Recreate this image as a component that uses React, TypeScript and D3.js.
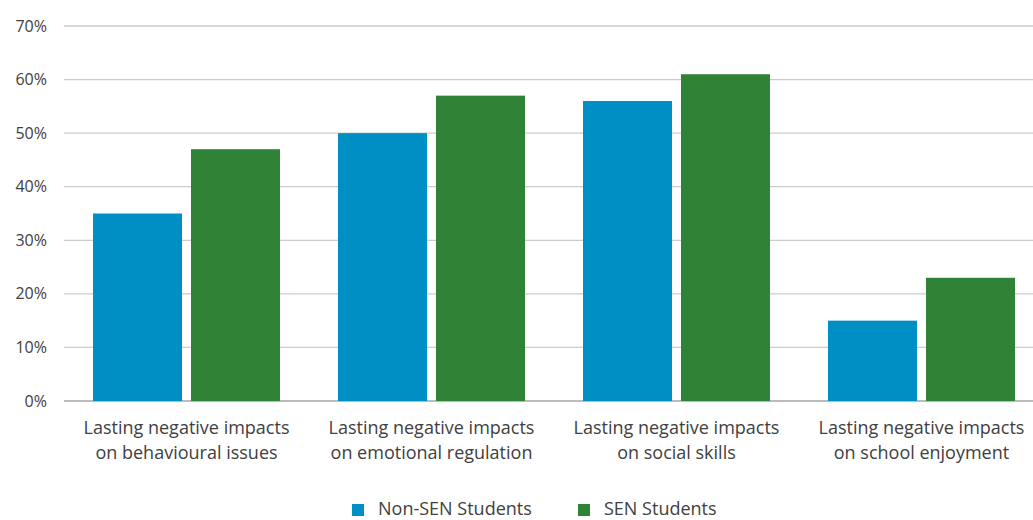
import React from "react";
import * as d3 from "d3";

const categories: string[][] = [
  ["Lasting negative impacts", "on behavioural issues"],
  ["Lasting negative impacts", "on emotional regulation"],
  ["Lasting negative impacts", "on social skills"],
  ["Lasting negative impacts", "on school enjoyment"],
];
const nonSen: number[] = [35, 50, 56, 15];
const sen: number[] = [47, 57, 61, 23];
const yTicks: number[] = [0, 10, 20, 30, 40, 50, 60, 70];
const seriesNames: string[] = ["Non-SEN Students", "SEN Students"];
const colors: string[] = ["#008fc5", "#308236"];

const W = 1033;
const H = 520;
const left = 64;
const plotW = 980;
const top = 26;
const bottom = 401;
const font = "'Open Sans', 'Segoe UI', sans-serif";

export default function App() {
  const x0 = d3
    .scaleBand<number>()
    .domain(categories.map((_, i) => i))
    .range([left, left + plotW])
    .paddingInner(0.2367)
    .paddingOuter(0.1184);
  const x1 = d3
    .scaleBand<number>()
    .domain([0, 1])
    .range([0, x0.bandwidth()])
    .paddingInner(0.0918);
  const y = d3.scaleLinear().domain([0, 70]).range([bottom, top]);
  const series = [nonSen, sen];

  return (
    <svg
      width={W}
      height={H}
      style={{ position: "absolute", left: 0, top: 0, background: "#fff" }}
    >
      {yTicks.map((t) => (
        <g key={t}>
          <line
            x1={left}
            x2={W}
            y1={y(t)}
            y2={y(t)}
            stroke={t === 0 ? "#a6a6a6" : "#cccccc"}
            strokeWidth={1.3}
          />
          <text
            x={47}
            y={y(t)}
            dy="0.35em"
            textAnchor="end"
            fontFamily={font}
            fontSize={16}
            fill="#404040"
          >
            {t}%
          </text>
        </g>
      ))}
      {categories.map((_, i) =>
        series.map((vals, s) => (
          <rect
            key={`${i}-${s}`}
            x={(x0(i) as number) + (x1(s) as number)}
            y={y(vals[i])}
            width={x1.bandwidth()}
            height={bottom - y(vals[i])}
            fill={colors[s]}
          />
        ))
      )}
      {categories.map((lines, i) => (
        <text
          key={i}
          textAnchor="middle"
          fontFamily={font}
          fontSize={18}
          fill="#404040"
        >
          {lines.map((l, k) => (
            <tspan
              key={k}
              x={(x0(i) as number) + x0.bandwidth() / 2}
              y={434 + k * 25}
            >
              {l}
            </tspan>
          ))}
        </text>
      ))}
      {seriesNames.map((name, s) => {
        const lx = s === 0 ? 352 : 578;
        return (
          <g key={name}>
            <rect x={lx} y={504} width={12} height={12} fill={colors[s]} />
            <text
              x={lx + 26}
              y={509}
              dy="0.35em"
              fontFamily={font}
              fontSize={18}
              fill="#404040"
            >
              {name}
            </text>
          </g>
        );
      })}
    </svg>
  );
}
